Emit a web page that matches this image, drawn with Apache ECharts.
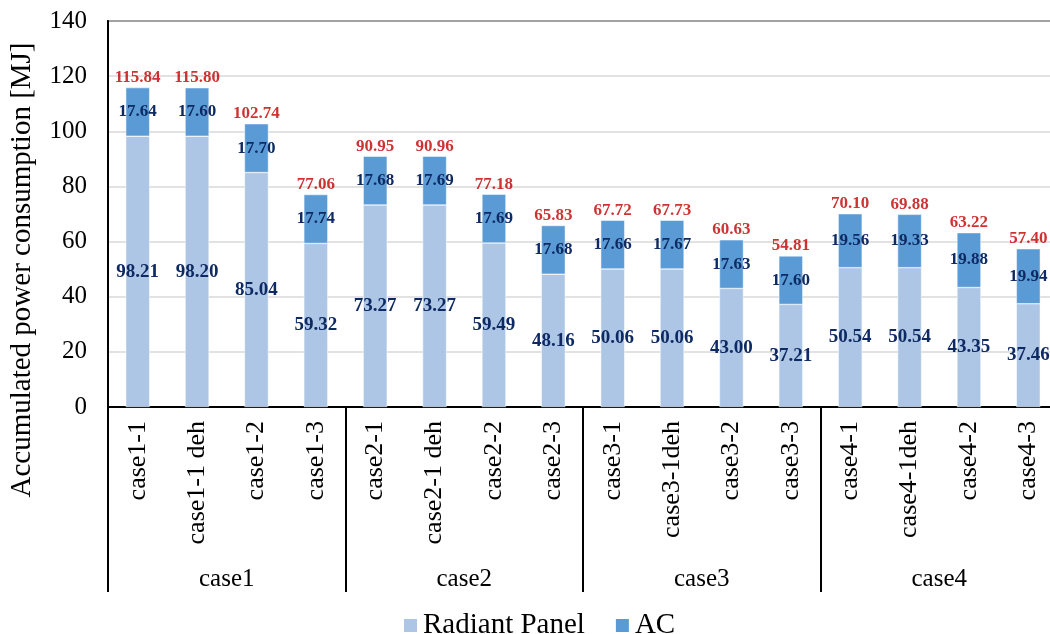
<!DOCTYPE html>
<html>
<head>
<meta charset="utf-8">
<script src="https://cdn.jsdelivr.net/npm/echarts@6/dist/echarts.min.js"></script>
<style>
  html, body { margin: 0; padding: 0; background: #fff; }
  #chart { width: 1050px; height: 634px; }
</style>
</head>
<body>
<div id="chart"></div>
<script>
// Accumulated power consumption per case, split into radiant panel and AC
const categories = [
  'case1-1', 'case1-1 deh', 'case1-2', 'case1-3',
  'case2-1', 'case2-1 deh', 'case2-2', 'case2-3',
  'case3-1', 'case3-1deh', 'case3-2', 'case3-3',
  'case4-1', 'case4-1deh', 'case4-2', 'case4-3'
];
const groups = ['case1', 'case2', 'case3', 'case4'];
const radiantPanel = [98.21, 98.20, 85.04, 59.32, 73.27, 73.27, 59.49, 48.16,
                      50.06, 50.06, 43.00, 37.21, 50.54, 50.54, 43.35, 37.46];
const ac = [17.64, 17.60, 17.70, 17.74, 17.68, 17.69, 17.69, 17.68,
            17.66, 17.67, 17.63, 17.60, 19.56, 19.33, 19.88, 19.94];
const totals = [115.84, 115.80, 102.74, 77.06, 90.95, 90.96, 77.18, 65.83,
                67.72, 67.73, 60.63, 54.81, 70.10, 69.88, 63.22, 57.40];
const yTicks = { min: 0, max: 140, interval: 20 };

const FONT = '"Liberation Serif", "Times New Roman", serif';
const NAVY = '#0E2A63';
const RED = '#C00000';

const chart = echarts.init(document.getElementById('chart'));
chart.setOption({
  animation: false,
  backgroundColor: '#fff',
  textStyle: { fontFamily: FONT },
  grid: {
    left: 108, top: 21, width: 950, height: 386,
    outerBoundsMode: 'none',
    show: true, borderColor: '#000', borderWidth: 2, backgroundColor: 'transparent'
  },
  legend: {
    data: ['Radiant Panel', 'AC'],
    left: 397, top: 606,
    itemWidth: 15, itemHeight: 15, itemGap: 29,
    icon: 'rect',
    textStyle: { fontFamily: FONT, fontSize: 29, color: '#000' }
  },
  xAxis: [
    {
      type: 'category',
      data: categories,
      position: 'bottom',
      axisLine: { show: true, lineStyle: { color: '#000', width: 2 } },
      axisTick: { show: false },
      axisLabel: {
        rotate: 90, interval: 0, margin: 14,
        fontFamily: FONT, fontSize: 26, color: '#000'
      }
    },
    {
      type: 'category',
      data: groups,
      position: 'bottom',
      axisLine: { show: false },
      axisTick: { show: true, length: 185, lineStyle: { color: '#000', width: 2 } },
      axisLabel: {
        interval: 0, margin: 160,
        fontFamily: FONT, fontSize: 25, color: '#000'
      }
    }
  ],
  yAxis: {
    type: 'value',
    min: yTicks.min, max: yTicks.max, interval: yTicks.interval,
    axisLine: { show: true, lineStyle: { color: '#000', width: 2 } },
    axisTick: { show: false },
    axisLabel: { fontFamily: FONT, fontSize: 25, color: '#000', margin: 21 },
    splitLine: { lineStyle: { color: '#D9D9D9', width: 1.5 } }
  },
  graphic: [{
    type: 'text',
    x: 22, y: 270,
    rotation: Math.PI / 2,
    style: {
      text: 'Accumulated power consumption [MJ]',
      font: '29px ' + FONT,
      fill: '#000',
      align: 'center',
      verticalAlign: 'middle'
    }
  }],
  series: [
    {
      name: 'Radiant Panel',
      type: 'bar',
      stack: 'total',
      barWidth: 24,
      data: radiantPanel,
      itemStyle: { color: '#ADC6E6', borderColor: '#fff', borderWidth: 0.5 },
      label: {
        show: true, position: 'inside',
        formatter: p => p.value.toFixed(2),
        fontFamily: FONT, fontSize: 19, fontWeight: 'bold', color: NAVY
      }
    },
    {
      name: 'AC',
      type: 'bar',
      stack: 'total',
      barWidth: 24,
      data: ac,
      itemStyle: { color: '#5B9BD5', borderColor: '#fff', borderWidth: 0.5 },
      label: {
        show: true, position: 'inside',
        formatter: p => p.value.toFixed(2),
        fontFamily: FONT, fontSize: 17, fontWeight: 'bold', color: NAVY
      }
    },
    {
      name: 'Total',
      type: 'scatter',
      data: totals,
      symbolSize: 1,
      itemStyle: { color: 'rgba(0,0,0,0)' },
      silent: true,
      z: 5,
      label: {
        show: true, position: 'top', distance: 1,
        formatter: p => p.value.toFixed(2),
        fontFamily: FONT, fontSize: 17, fontWeight: 'bold', color: RED
      }
    }
  ]
});
</script>
</body>
</html>
